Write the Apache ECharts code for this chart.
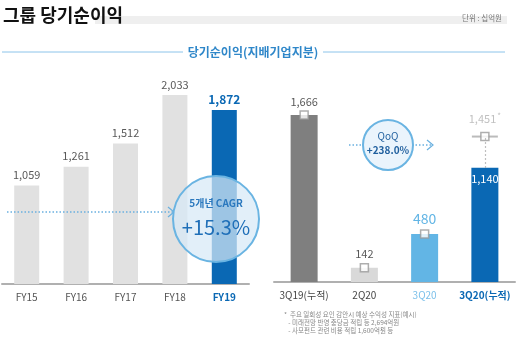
<!DOCTYPE html>
<html><head><meta charset="utf-8">
<script src="https://cdn.jsdelivr.net/npm/echarts@6/dist/echarts.min.js"></script>
<style>html,body{margin:0;padding:0;background:#fff}#c{width:532px;height:344px}</style>
</head><body><div id="c"></div>
<script>
const leftCats = ['FY15','FY16','FY17','FY18','FY19'];
const leftVals = [1059, 1261, 1512, 2033, 1872];
const rightCats = ['3Q19(누적)','2Q20','3Q20','3Q20(누적)'];
const rightVals = [1666, 142, 480, 1140];
const adjustedVal = 1451; // 일회성 요인 감안시 3Q20(누적)
const cagrText = '+15.3%';
const qoqText = '+238.0%';

const F = '"Noto Sans CJK KR", "Noto Sans", sans-serif';
const BLUE = '#0a68b4', LBLUE = '#62b5e5', GREY = '#595959';
const leftColors = ['#e1e1e1','#e1e1e1','#e1e1e1','#e1e1e1',BLUE];
const rightColors = ['#7f7f7f','#d9d9d9',LBLUE,BLUE];
const fmt = v => v.toLocaleString('en-US');

const chart = echarts.init(document.getElementById('c'), null, {renderer:'canvas'});
const catLabel = (colors, bolds) => ({
  interval:0, fontFamily:F, fontSize:10, margin:8,
  formatter:(v,i)=>`{s${i}|${v}}`,
  rich: Object.fromEntries(colors.map((c,i)=>['s'+i,{color:c,fontWeight:bolds[i]?'bold':'normal',fontFamily:F,fontSize:10}]))
});
const option = {
  animation:false,
  grid:[
    {left:2, width:247, top:95, height:189},
    {left:274, width:241, top:115, height:167}
  ],
  xAxis:[
    {gridIndex:0,type:'category',data:leftCats,axisTick:{show:false},
     axisLine:{lineStyle:{color:'#b0b0b0',width:2}},
     axisLabel:catLabel(['#555','#555','#555','#555',BLUE],[0,0,0,0,1])},
    {gridIndex:1,type:'category',data:rightCats,axisTick:{show:false},
     axisLine:{lineStyle:{color:'#b0b0b0',width:2}},
     axisLabel:catLabel(['#444','#444','#7cc0ea',BLUE],[0,0,0,1])}
  ],
  yAxis:[
    {gridIndex:0,type:'value',min:0,max:2033,show:false,splitLine:{show:false}},
    {gridIndex:1,type:'value',min:0,max:1666,show:false,splitLine:{show:false}}
  ],
  series:[
    {type:'bar',xAxisIndex:0,yAxisIndex:0,barWidth:25,
     data:leftVals.map((v,i)=>({value:v,itemStyle:{color:leftColors[i]},
       label:{show:true,position:'top',distance:5,fontFamily:F,
         fontSize:i===4?12:11,fontWeight:i===4?'bold':'normal',color:i===4?BLUE:GREY,formatter:fmt(v)}}))},
    {type:'bar',xAxisIndex:1,yAxisIndex:1,barWidth:27,z:2,
     data:rightVals.map((v,i)=>({value:v,itemStyle:{color:rightColors[i]},
       label: i===3
        ? {show:true,position:'insideTop',distance:6,fontFamily:F,fontSize:11,color:'#fff',formatter:fmt(v)}
        : {show:true,position:'top',distance:8,fontFamily:F,fontSize:i===2?14:11,color:i===2?LBLUE:GREY,formatter:fmt(v)}}))},
    {type:'scatter',xAxisIndex:1,yAxisIndex:1,symbol:'rect',symbolSize:[26,2],z:3,
     itemStyle:{color:'#aaaaaa'},data:[[3,adjustedVal]]},
    {type:'scatter',xAxisIndex:1,yAxisIndex:1,symbol:'rect',symbolSize:8,z:4,
     itemStyle:{color:'#fff',borderColor:'#9a9a9a',borderWidth:1.5},
     data:[[0,rightVals[0]],[1,rightVals[1]],[2,rightVals[2]],
       {value:[3,adjustedVal],label:{show:true,position:'top',distance:6,fontFamily:F,fontSize:11,color:'#b0b0b0',
         formatter:fmt(adjustedVal)+'{a|*}',rich:{a:{fontSize:8,color:'#b0b0b0',verticalAlign:'top',padding:[0,0,6,1]}}}}],
     markLine:{silent:true,symbol:'none',label:{show:false},
       lineStyle:{color:'#aaaaaa',type:[1.5,2.5],width:1.2},
       data:[[{coord:[3,rightVals[3]]},{coord:[3,adjustedVal]}]]}}
  ],
  graphic:[
    {type:'rect',shape:{x:95,y:16,width:412,height:8},style:{fill:'#efefef'},z:0},
    {type:'text',left:3,top:6,style:{text:'그룹 당기순이익',font:'bold 18px '+F,fill:'#111'},z:5},
    {type:'text',right:30,top:14,style:{text:'단위 : 십억원',font:'7.5px '+F,fill:'#777'},z:5},
    {type:'line',shape:{x1:2,y1:52,x2:183,y2:52},style:{stroke:'#8cc4ea',lineWidth:1}},
    {type:'line',shape:{x1:323,y1:52,x2:505,y2:52},style:{stroke:'#8cc4ea',lineWidth:1}},
    {type:'text',x:253,y:52,style:{text:'당기순이익(지배기업지분)',font:'bold 12px '+F,fill:'#2f87c9',align:'center',verticalAlign:'middle'}},
    {type:'line',shape:{x1:7,y1:212,x2:174,y2:212},style:{stroke:'#6ab0df',lineWidth:1.5,lineDash:[1.5,2]},z:10},
    {type:'polyline',shape:{points:[[168,207],[174,212],[168,217]]},style:{stroke:'#6ab0df',lineWidth:1.2,fill:null},z:10},
    {type:'circle',shape:{cx:216,cy:219,r:43},style:{fill:'rgba(215,233,247,0.72)',stroke:'#6ab4e2',lineWidth:2},z:11},
    {type:'text',x:216,y:203,style:{text:'5개년 CAGR',font:'bold 10px '+F,fill:'#2a78be',align:'center',verticalAlign:'middle'},z:12},
    {type:'text',x:216,y:227,style:{text:cagrText,font:'20px '+F,fill:'#1f6fb8',align:'center',verticalAlign:'middle'},z:12},
    {type:'line',shape:{x1:349,y1:145,x2:432,y2:145},style:{stroke:'#6ab0df',lineWidth:1.5,lineDash:[1.5,2]},z:10},
    {type:'polyline',shape:{points:[[427,140],[433,145],[427,150]]},style:{stroke:'#6ab0df',lineWidth:1.2,fill:null},z:10},
    {type:'circle',shape:{cx:388,cy:145,r:25},style:{fill:'#eaf4fc',stroke:'#6ab4e2',lineWidth:2},z:11},
    {type:'text',x:388,y:136,style:{text:'QoQ',font:'10px '+F,fill:'#1f5f9e',align:'center',verticalAlign:'middle'},z:12},
    {type:'text',x:388,y:150,style:{text:qoqText,font:'bold 10px '+F,fill:'#1f5f9e',align:'center',verticalAlign:'middle'},z:12},
    {type:'text',left:284,top:311,style:{text:'*  주요 일회성 요인 감안시 예상 수익성 지표(예시)\n   - 미래전망 반영 충당금 적립 등 2,694억원\n   - 사모펀드 관련 비용 적립 1,600억원 등',font:'6.5px '+F,fill:'#888',lineHeight:8}}
  ]
};
chart.setOption(option);
</script></body></html>
